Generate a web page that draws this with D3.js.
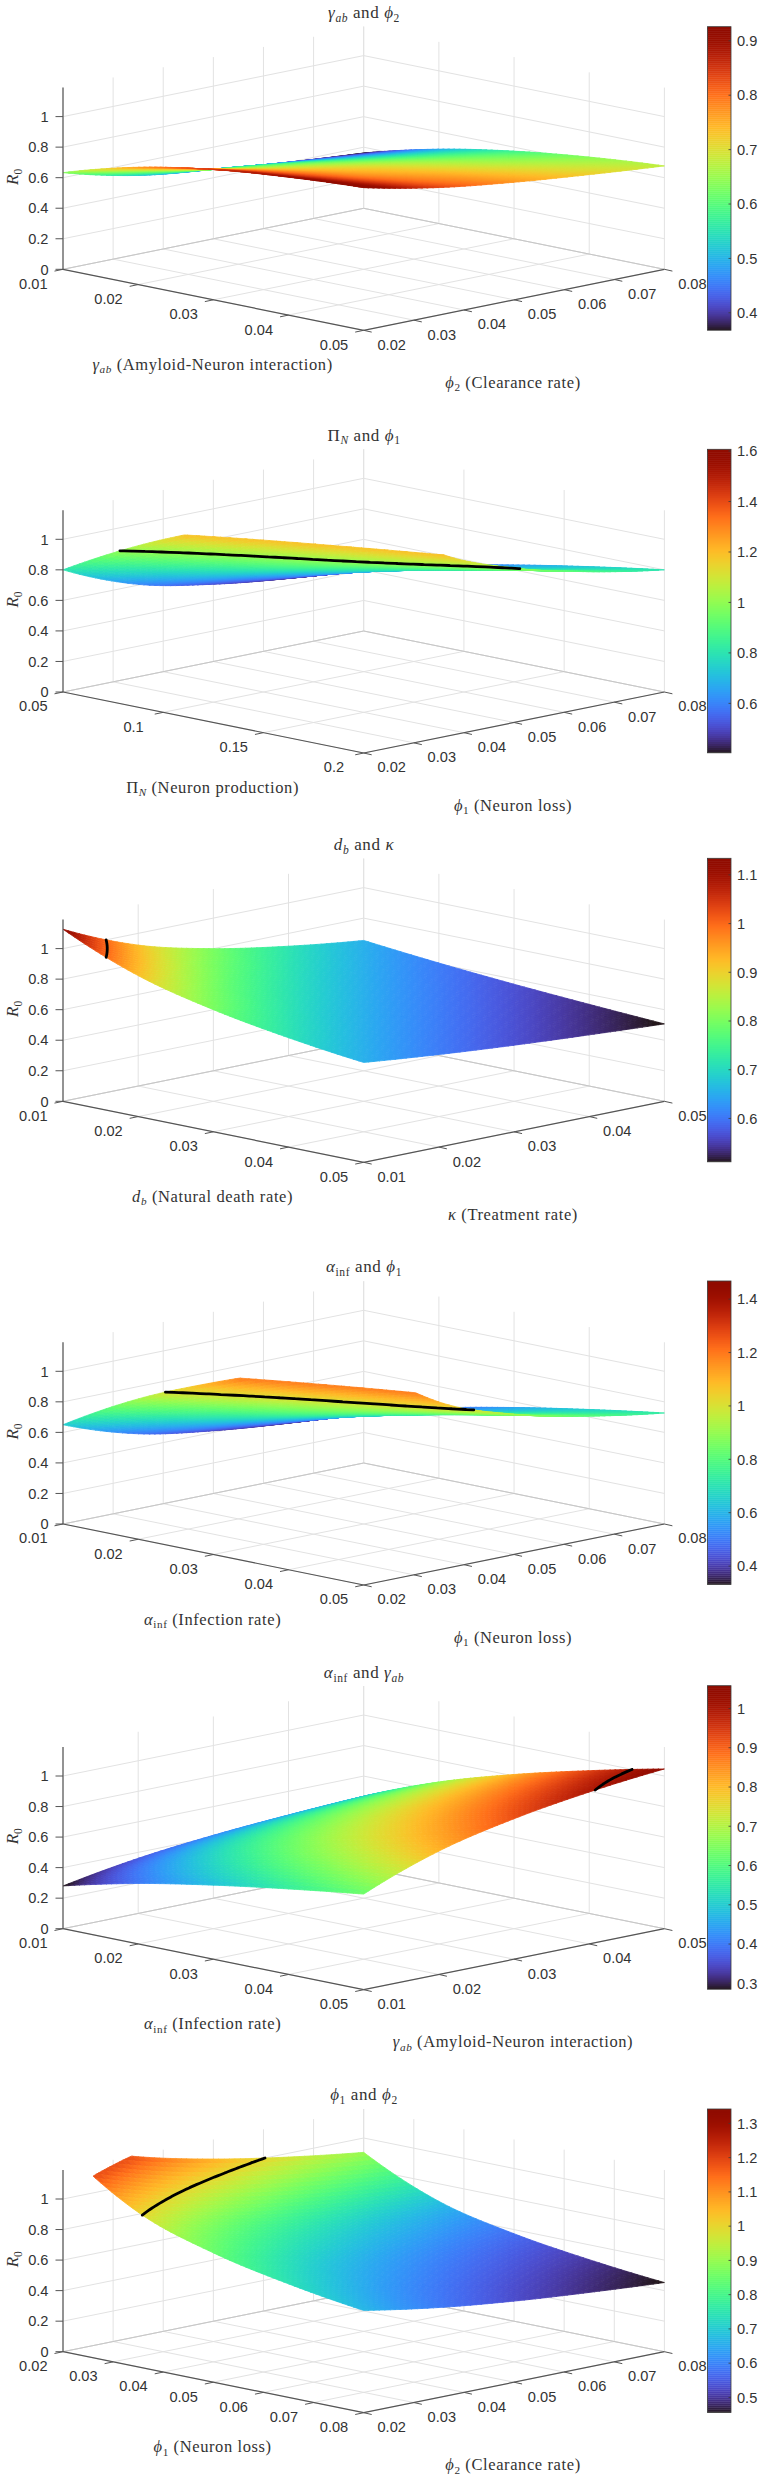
<!DOCTYPE html>
<html>
<head>
<meta charset="utf-8">
<script src="https://cdnjs.cloudflare.com/ajax/libs/d3/7.8.5/d3.min.js"></script>
<style>
html,body{margin:0;padding:0;background:#fff}
svg{display:block}
</style>
</head>
<body>
<svg id="chart" width="763" height="2480"></svg>
<script>
// R0 sampled on 5x5 parameter grids: rows run along the second parameter, columns along the first.
const gammaPhi2R0 = [
  [0.633,0.768,0.853,0.903,0.934],
  [0.515,0.654,0.747,0.798,0.835],
  [0.454,0.590,0.681,0.735,0.770],
  [0.402,0.531,0.623,0.680,0.720],
  [0.362,0.487,0.574,0.635,0.677]
];
const piPhi1R0 = [
  [0.800,1.058,1.265,1.442,1.600],
  [0.605,0.800,0.956,1.090,1.210],
  [0.506,0.669,0.800,0.912,1.012],
  [0.444,0.587,0.702,0.800,0.888],
  [0.400,0.529,0.632,0.721,0.800]
];
const dbKappaR0 = [
  [1.127,0.923,0.800,0.716,0.654],
  [0.923,0.800,0.716,0.654,0.606],
  [0.800,0.716,0.654,0.606,0.567],
  [0.716,0.654,0.606,0.567,0.535],
  [0.654,0.606,0.567,0.535,0.507]
];
const alphaPhi1R0 = [
  [0.650,0.919,1.126,1.300,1.453],
  [0.491,0.695,0.851,0.983,1.099],
  [0.411,0.581,0.712,0.822,0.919],
  [0.361,0.510,0.625,0.722,0.807],
  [0.325,0.460,0.563,0.650,0.727]
];
const alphaGammaR0 = [
  [0.280,0.396,0.485,0.560,0.626],
  [0.361,0.511,0.626,0.722,0.808],
  [0.412,0.582,0.713,0.823,0.920],
  [0.445,0.630,0.771,0.890,0.995],
  [0.468,0.661,0.810,0.935,1.046]
];
const phi1Phi2R0 = [
  [1.340,1.013,0.847,0.744,0.670],
  [1.177,0.890,0.744,0.653,0.589],
  [1.062,0.803,0.671,0.589,0.531],
  [0.975,0.737,0.616,0.541,0.488],
  [0.906,0.685,0.573,0.503,0.453]
];

const ticks001to005 = [0.01,0.02,0.03,0.04,0.05];
const ticks002to008 = [0.02,0.03,0.04,0.05,0.06,0.07,0.08];
const ticksNeuronProd = [0.05,0.1,0.15,0.2];
const r0Ticks = [0,0.2,0.4,0.6,0.8,1];
const r0Ceiling = 1.19;
const thresholdLevel = [1];

const cbarTicks1 = [0.4,0.5,0.6,0.7,0.8,0.9];
const cbarTicks2 = [0.6,0.8,1,1.2,1.4,1.6];
const cbarTicks3 = [0.6,0.7,0.8,0.9,1,1.1];
const cbarTicks4 = [0.4,0.6,0.8,1,1.2,1.4];
const cbarTicks5 = [0.3,0.4,0.5,0.6,0.7,0.8,0.9,1];
const cbarTicks6 = [0.5,0.6,0.7,0.8,0.9,1,1.1,1.2,1.3];

const colorRange1 = [0.368,0.926];
const colorRange2 = [0.404,1.607];
const colorRange3 = [0.511,1.134];
const colorRange4 = [0.331,1.468];
const colorRange5 = [0.285,1.058];
const colorRange6 = [0.456,1.342];

// Math text runs: i = italic, s = subscript.
const G = {t:"γ",i:1}, AB = {t:"ab",i:1,s:1};
const P1 = {t:"ϕ",i:1}, ONE = {t:"1",s:1}, TWO = {t:"2",s:1};
const PI = {t:"Π"}, NS = {t:"N",i:1,s:1};
const D = {t:"d",i:1}, BS = {t:"b",i:1,s:1}, K = {t:"κ",i:1};
const A = {t:"α",i:1}, INF = {t:"inf",s:1};

const panels = [
  {values:gammaPhi2R0, xTicks:ticks001to005, yTicks:ticks002to008, colorRange:colorRange1, cbarTicks:cbarTicks1,
   title:[G,AB," and ",P1,TWO], xLabel:[G,AB," (Amyloid-Neuron interaction)"], yLabel:[P1,TWO," (Clearance rate)"]},
  {values:piPhi1R0, xTicks:ticksNeuronProd, yTicks:ticks002to008, colorRange:colorRange2, cbarTicks:cbarTicks2,
   title:[PI,NS," and ",P1,ONE], xLabel:[PI,NS," (Neuron production)"], yLabel:[P1,ONE," (Neuron loss)"]},
  {values:dbKappaR0, xTicks:ticks001to005, yTicks:ticks001to005, colorRange:colorRange3, cbarTicks:cbarTicks3,
   title:[D,BS," and ",K], xLabel:[D,BS," (Natural death rate)"], yLabel:[K," (Treatment rate)"]},
  {values:alphaPhi1R0, xTicks:ticks001to005, yTicks:ticks002to008, colorRange:colorRange4, cbarTicks:cbarTicks4,
   title:[A,INF," and ",P1,ONE], xLabel:[A,INF," (Infection rate)"], yLabel:[P1,ONE," (Neuron loss)"]},
  {values:alphaGammaR0, xTicks:ticks001to005, yTicks:ticks001to005, colorRange:colorRange5, cbarTicks:cbarTicks5,
   title:[A,INF," and ",G,AB], xLabel:[A,INF," (Infection rate)"], yLabel:[G,AB," (Amyloid-Neuron interaction)"]},
  {values:phi1Phi2R0, xTicks:ticks002to008, yTicks:ticks002to008, colorRange:colorRange6, cbarTicks:cbarTicks6,
   title:[P1,ONE," and ",P1,TWO], xLabel:[P1,ONE," (Neuron loss)"], yLabel:[P1,TWO," (Clearance rate)"]}
];

// Page layout of each axes: floor y of the left corner, title y, colour bar top.
const floorYs = [269.3,692,1101.3,1524,1928.7,2351.7];
const titleYs = [13.3,435.7,845,1267,1673.3,2095];
const cbarTops = [26.7,449.3,858.3,1281,1685.7,2109];

const layout = {left:63, unitW:300.7, unitD:61, zUnit:152.7, cbarX:707.5, cbarW:23.5, cbarH:303.5, refine:56};
const sansFont = "'Liberation Sans',Arial,sans-serif";
const serifFont = "'Liberation Serif',serif";
const gridColor = "#e2e2e2";
const backEdgeColor = "#c6c6c6";
const axisColor = "#555";
const textColor = "#333";

const svg = d3.select("#chart");

function mathText(g, runs, x, y, size, anchor, rotate, spacing){
  const text = g.append("text")
    .attr("text-anchor", anchor).attr("font-family", serifFont)
    .attr("font-size", size).attr("fill", textColor)
    .attr("letter-spacing", spacing || 0)
    .attr("transform", `translate(${x},${y})` + (rotate ? ` rotate(${rotate})` : ""));
  let wasSub = false;
  runs.forEach(r => {
    const run = typeof r === "string" ? {t:r} : r;
    const span = text.append("tspan").text(run.t).attr("font-style", run.i ? "italic" : "normal");
    if (run.s) span.attr("font-size", size * 0.68).attr("dy", size * 0.22);
    else if (wasSub) span.attr("dy", -size * 0.22);
    wasSub = !!run.s;
  });
  return text;
}

// Catmull-Rom weights keep the shaded surface smooth between the sampled nodes.
function catmull(p0,p1,p2,p3,t){
  return 0.5*((2*p1)+(-p0+p2)*t+(2*p0-5*p1+4*p2-p3)*t*t+(-p0+3*p1-3*p2+p3)*t*t*t);
}
function sampleLine(arr, f){
  const n = arr.length, k = Math.min(Math.floor(f*(n-1)), n-2), t = f*(n-1)-k;
  const p1 = arr[k], p2 = arr[k+1];
  const p0 = k>0 ? arr[k-1] : 3*arr[0]-3*arr[1]+arr[2];
  const p3 = k<n-2 ? arr[k+2] : 3*arr[n-1]-3*arr[n-2]+arr[n-3];
  return catmull(p0,p1,p2,p3,t);
}
function sampleSurface(values, u, v){
  return sampleLine(values.map(row => sampleLine(row, u)), v);
}

// Keep only the part of a polygon at or below the top of the R0 axis.
function clipTop(poly, top){
  const out = [];
  poly.forEach((a,i) => {
    const b = poly[(i+1)%poly.length];
    if (a.z <= top) out.push(a);
    if ((a.z <= top) !== (b.z <= top)){
      const t = (top-a.z)/(b.z-a.z);
      out.push({u:a.u+(b.u-a.u)*t, v:a.v+(b.v-a.v)*t, z:top});
    }
  });
  return out;
}

panels.forEach((p, idx) => {
  const g = svg.append("g");
  const floorY = floorYs[idx];
  const xDomain = d3.extent(p.xTicks), yDomain = d3.extent(p.yTicks);
  const xs = d3.scaleLinear().domain(xDomain).range([0,1]);
  const ys = d3.scaleLinear().domain(yDomain).range([0,1]);
  const zs = d3.scaleLinear().domain([0,1]).range([0,layout.zUnit]);
  const color = d3.scaleSequential(d3.interpolateTurbo).domain(p.colorRange).clamp(true);
  const project = (u,v,z) => [
    layout.left + (u+v)*layout.unitW,
    floorY + (u-v)*layout.unitD - zs(z)
  ];
  const line = d3.line();
  const seg = (a,b,stroke,w) => g.append("path").attr("d", line([a,b]))
    .attr("fill","none").attr("stroke",stroke).attr("stroke-width",w);

  // Walls and floor grid
  p.yTicks.forEach(t => {
    const v = ys(t);
    seg(project(0,v,0), project(0,v,r0Ceiling), gridColor, 1);
    seg(project(0,v,0), project(1,v,0), gridColor, 1);
  });
  p.xTicks.forEach(t => {
    const u = xs(t);
    seg(project(u,1,0), project(u,1,r0Ceiling), gridColor, 1);
    seg(project(u,0,0), project(u,1,0), gridColor, 1);
  });
  r0Ticks.forEach(t => {
    seg(project(0,0,t), project(0,1,t), gridColor, 1);
    seg(project(0,1,t), project(1,1,t), gridColor, 1);
  });
  seg(project(0,0,0), project(0,1,0), backEdgeColor, 1);
  seg(project(0,1,0), project(1,1,0), backEdgeColor, 1);

  // Surface, painted from the far corner towards the viewer
  const n = layout.refine, step = 1/n;
  const cells = [];
  const field = d3.range(n+1).map(i => d3.range(n+1).map(j => sampleSurface(p.values, i*step, j*step)));
  for (let i=0;i<n;i++){
    for (let j=n-1;j>=0;j--){
      const quad = [[i,j],[i+1,j],[i+1,j+1],[i,j+1]].map(([a,b]) => ({u:a*step, v:b*step, z:field[a][b]}));
      const clipped = clipTop(quad, r0Ceiling);
      if (clipped.length < 3) continue;
      cells.push({pts:clipped.map(q => project(q.u,q.v,q.z)), z:d3.mean(clipped, q => q.z)});
    }
  }
  g.append("g").selectAll("path").data(cells).join("path")
    .attr("d", d => line(d.pts)+"Z")
    .attr("fill", d => color(d.z))
    .attr("stroke", d => color(d.z))
    .attr("stroke-width", 0.8)
    .attr("stroke-linejoin","round");

  // R0 = 1 level curve
  const level = thresholdLevel[0];
  let contourPath = "";
  for (let i=0;i<n;i++){
    for (let j=0;j<n;j++){
      const corners = [[i,j],[i+1,j],[i+1,j+1],[i,j+1]];
      const crossings = [];
      corners.forEach((c,k) => {
        const d = corners[(k+1)%4];
        const za = field[c[0]][c[1]], zb = field[d[0]][d[1]];
        if ((za-level)*(zb-level) < 0){
          const t = (level-za)/(zb-za);
          crossings.push(project((c[0]+(d[0]-c[0])*t)*step,(c[1]+(d[1]-c[1])*t)*step,level));
        }
      });
      if (crossings.length === 2) contourPath += line(crossings);
    }
  }
  if (contourPath) g.append("path").attr("d",contourPath).attr("fill","none")
    .attr("stroke","#000").attr("stroke-width",2.8).attr("stroke-linecap","round");

  // Axes lines and tick marks
  seg(project(0,0,0), project(1,0,0), axisColor, 1.2);
  seg(project(1,0,0), project(1,1,0), axisColor, 1.2);
  seg(project(0,0,0), project(0,0,r0Ceiling), axisColor, 1.2);
  const tickFont = sel => sel.attr("font-family",sansFont).attr("font-size",14.6).attr("fill",textColor);
  p.xTicks.forEach(t => {
    const a = project(xs(t),0,0);
    seg(a,[a[0]-8.5,a[1]+1.8],axisColor,1);
    g.append("text").text(String(t)).attr("x",a[0]-29.7).attr("y",a[1]+14.2)
      .attr("dy","0.36em").attr("text-anchor","middle").call(tickFont);
  });
  p.yTicks.forEach(t => {
    const a = project(1,ys(t),0);
    seg(a,[a[0]+8,a[1]+1.8],axisColor,1);
    g.append("text").text(String(t)).attr("x",a[0]+28).attr("y",a[1]+14.2)
      .attr("dy","0.36em").attr("text-anchor","middle").call(tickFont);
  });
  r0Ticks.forEach(t => {
    const a = project(0,0,t);
    seg(a,[a[0]-7.5,a[1]],axisColor,1);
    g.append("text").text(String(t)).attr("x",a[0]-14.5).attr("y",a[1])
      .attr("dy","0.36em").attr("text-anchor","end").call(tickFont);
  });

  // Titles and axis labels
  mathText(g, p.title, 364, titleYs[idx]+5, 17, "middle", 0, 0.6);
  mathText(g, p.xLabel, 212.6, floorY+100.5, 16.5, "middle", 0, 0.6);
  mathText(g, p.yLabel, 513, floorY+118.5, 16.5, "middle", 0, 0.6);
  mathText(g, [{t:"R",i:1},{t:"0",s:1}], 18, floorY-92.5, 17, "middle", -90);

  // Colour bar
  const top = cbarTops[idx];
  const cbarY = d3.scaleLinear().domain(p.colorRange).range([top+layout.cbarH, top]);
  const stops = d3.range(0,1.0001,1/152).map(f => p.colorRange[0]+f*(p.colorRange[1]-p.colorRange[0]));
  g.append("g").selectAll("rect").data(stops).join("rect")
    .attr("x",layout.cbarX).attr("width",layout.cbarW)
    .attr("y",d => Math.max(top,cbarY(d)-1.2)).attr("height",d => Math.min(2.4, top+layout.cbarH-Math.max(top,cbarY(d)-1.2)))
    .attr("fill",d => color(d));
  g.append("rect").attr("x",layout.cbarX).attr("y",top).attr("width",layout.cbarW).attr("height",layout.cbarH)
    .attr("fill","none").attr("stroke","#3a3a3a").attr("stroke-width",0.8);
  p.cbarTicks.forEach(t => {
    const y = cbarY(t);
    seg([layout.cbarX+layout.cbarW-2.5,y],[layout.cbarX+layout.cbarW,y],"#3a3a3a",0.8);
    g.append("text").text(String(t)).attr("x",737).attr("y",y)
      .attr("dy","0.36em").attr("text-anchor","start").call(tickFont);
  });
});
</script>
</body>
</html>
